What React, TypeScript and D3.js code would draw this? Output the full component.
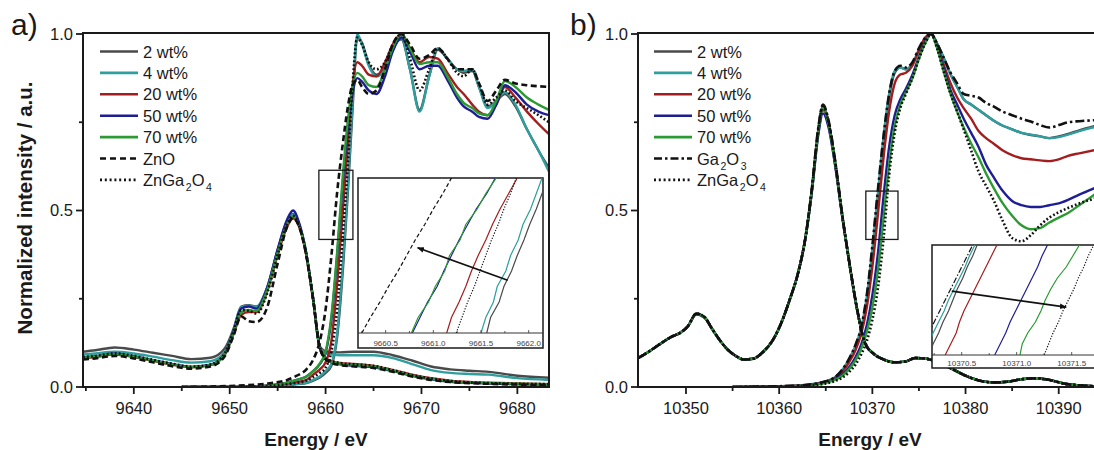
import React from "react";
import * as d3 from "d3";

type Pt = [number, number];

// ---------------- shared ----------------
const sampleNames = ["2 wt%", "4 wt%", "20 wt%", "50 wt%", "70 wt%"];
const yMajorTicks = [0, 0.5, 1.0];
const yMinorTicks = [0.25, 0.75];

// ---------------- panel a : Zn K-edge ----------------
const aXMajor = [9640, 9650, 9660, 9670, 9680];
const aXMinor = [9635, 9645, 9655, 9665, 9675];
const aRefNames = ["ZnO", "ZnGa2O4"];

// lower-energy (peak) family
const aPeakE = [9634.7, 9636, 9638, 9640, 9642, 9644, 9646, 9648, 9649.5, 9650.4, 9651.2, 9652, 9652.8, 9653.9, 9655, 9656, 9656.6, 9657.3, 9657.9, 9658.7, 9659.4, 9660.2, 9661.5, 9663, 9665, 9667, 9669, 9671, 9673, 9675, 9677, 9680, 9683.3];
const aPeak2 = [0.100, 0.104, 0.112, 0.106, 0.097, 0.088, 0.079, 0.083, 0.110, 0.165, 0.228, 0.232, 0.228, 0.282, 0.388, 0.470, 0.490, 0.455, 0.390, 0.250, 0.115, 0.100, 0.098, 0.100, 0.100, 0.090, 0.075, 0.058, 0.050, 0.046, 0.043, 0.032, 0.026];
const aPeak4 = [0.092, 0.095, 0.100, 0.095, 0.086, 0.076, 0.069, 0.073, 0.100, 0.160, 0.226, 0.230, 0.226, 0.280, 0.385, 0.468, 0.488, 0.455, 0.390, 0.250, 0.112, 0.094, 0.090, 0.090, 0.090, 0.082, 0.065, 0.048, 0.040, 0.037, 0.035, 0.025, 0.020];
const aPeak20 = [0.082, 0.085, 0.092, 0.085, 0.074, 0.063, 0.056, 0.062, 0.092, 0.150, 0.205, 0.212, 0.212, 0.270, 0.375, 0.455, 0.478, 0.450, 0.385, 0.248, 0.112, 0.078, 0.068, 0.065, 0.060, 0.048, 0.035, 0.025, 0.018, 0.014, 0.012, 0.010, 0.008];
const aPeak50 = [0.084, 0.087, 0.094, 0.087, 0.076, 0.065, 0.057, 0.063, 0.094, 0.158, 0.222, 0.228, 0.222, 0.280, 0.390, 0.475, 0.500, 0.460, 0.392, 0.250, 0.110, 0.076, 0.064, 0.060, 0.056, 0.045, 0.032, 0.022, 0.015, 0.012, 0.010, 0.008, 0.007];
const aPeak70 = [0.083, 0.086, 0.093, 0.086, 0.075, 0.064, 0.056, 0.062, 0.093, 0.152, 0.212, 0.218, 0.215, 0.273, 0.380, 0.462, 0.484, 0.452, 0.388, 0.248, 0.110, 0.076, 0.066, 0.062, 0.058, 0.046, 0.033, 0.023, 0.016, 0.013, 0.011, 0.009, 0.008];
const aPeakZnO = [0.078, 0.081, 0.088, 0.081, 0.070, 0.059, 0.052, 0.058, 0.088, 0.145, 0.200, 0.186, 0.184, 0.225, 0.350, 0.455, 0.478, 0.450, 0.385, 0.248, 0.110, 0.074, 0.062, 0.058, 0.054, 0.043, 0.030, 0.020, 0.014, 0.011, 0.009, 0.007, 0.006];
const aPeakZnGa2O4 = [0.085, 0.088, 0.095, 0.088, 0.077, 0.066, 0.058, 0.064, 0.096, 0.158, 0.218, 0.216, 0.208, 0.265, 0.375, 0.462, 0.485, 0.452, 0.388, 0.250, 0.112, 0.078, 0.068, 0.064, 0.060, 0.048, 0.034, 0.024, 0.017, 0.013, 0.011, 0.009, 0.008];

// absorption-edge family
const aEdgeE = [9645, 9650, 9654, 9656, 9657, 9658, 9658.7, 9659.4, 9660, 9660.6, 9661.2, 9661.8, 9662.3, 9662.8, 9663.3, 9663.8, 9664.5, 9665.3, 9666.2, 9667, 9667.9, 9668.8, 9669.8, 9670.8, 9671.7, 9672.7, 9673.7, 9674.4, 9675.3, 9676, 9676.9, 9677.8, 9678.7, 9679.8, 9681, 9682.2, 9683.3];
const aEdge2 = [0, 0, 0.002, 0.005, 0.008, 0.011, 0.018, 0.027, 0.04, 0.06, 0.14, 0.33, 0.54, 0.78, 0.99, 0.975, 0.915, 0.885, 0.905, 0.96, 0.985, 0.9, 0.785, 0.88, 0.955, 0.93, 0.9, 0.89, 0.895, 0.85, 0.795, 0.81, 0.83, 0.795, 0.73, 0.67, 0.62];
const aEdge4 = [0, 0, 0.003, 0.006, 0.009, 0.012, 0.02, 0.03, 0.045, 0.065, 0.15, 0.35, 0.56, 0.8, 1.0, 0.97, 0.91, 0.88, 0.9, 0.96, 0.99, 0.9, 0.78, 0.88, 0.96, 0.93, 0.9, 0.895, 0.9, 0.85, 0.79, 0.81, 0.835, 0.8, 0.73, 0.67, 0.61];
const aEdge20 = [0, 0, 0.004, 0.01, 0.014, 0.02, 0.035, 0.05, 0.07, 0.13, 0.29, 0.5, 0.68, 0.85, 0.92, 0.91, 0.885, 0.88, 0.92, 0.97, 1.0, 0.96, 0.92, 0.935, 0.93, 0.89, 0.85, 0.83, 0.8, 0.78, 0.77, 0.8, 0.85, 0.82, 0.78, 0.745, 0.716];
const aEdge50 = [0, 0, 0.004, 0.012, 0.02, 0.03, 0.045, 0.065, 0.097, 0.19, 0.37, 0.58, 0.73, 0.83, 0.875, 0.865, 0.84, 0.83, 0.88, 0.95, 0.99, 0.95, 0.9, 0.91, 0.91, 0.87, 0.82, 0.795, 0.78, 0.765, 0.76, 0.8, 0.855, 0.835, 0.8, 0.78, 0.77];
const aEdge70 = [0, 0, 0.004, 0.012, 0.02, 0.03, 0.045, 0.067, 0.1, 0.2, 0.38, 0.6, 0.75, 0.85, 0.89, 0.88, 0.855, 0.85, 0.9, 0.96, 1.0, 0.96, 0.915, 0.92, 0.92, 0.88, 0.83, 0.805, 0.79, 0.775, 0.77, 0.81, 0.867, 0.85, 0.82, 0.8, 0.785];
const aEdgeZnO = [0, 0.003, 0.01, 0.02, 0.032, 0.05, 0.077, 0.13, 0.22, 0.37, 0.55, 0.69, 0.79, 0.855, 0.87, 0.85, 0.83, 0.84, 0.9, 0.97, 1.0, 0.97, 0.93, 0.94, 0.96, 0.93, 0.9, 0.9, 0.9, 0.86, 0.81, 0.84, 0.87, 0.86, 0.855, 0.852, 0.85];
const aEdgeZnGa2O4 = [0, 0, 0.003, 0.008, 0.012, 0.018, 0.028, 0.04, 0.055, 0.1, 0.22, 0.43, 0.62, 0.85, 0.99, 0.97, 0.92, 0.9, 0.92, 0.97, 1.0, 0.93, 0.84, 0.9, 0.96, 0.93, 0.89, 0.88, 0.9, 0.86, 0.8, 0.82, 0.84, 0.81, 0.79, 0.77, 0.75];

// inset a (zoom on the edge)
const aInsetMajor = [9660.5, 9661.0, 9661.5, 9662.0];
const aInsetMinor = [9660.25, 9660.75, 9661.25, 9661.75];
const aInsetLevels = [0.40, 0.42, 0.44, 0.46, 0.48, 0.50, 0.52, 0.54, 0.56, 0.58, 0.60];
const aIns2 = [9661.56, 9661.60, 9661.69, 9661.74, 9661.82, 9661.88, 9661.95, 9662.01, 9662.08, 9662.14, 9662.21];
const aIns4 = [9661.50, 9661.55, 9661.63, 9661.67, 9661.76, 9661.81, 9661.89, 9661.94, 9662.02, 9662.08, 9662.14];
const aIns20 = [9661.14, 9661.19, 9661.27, 9661.34, 9661.40, 9661.47, 9661.55, 9661.62, 9661.70, 9661.79, 9661.88];
const aIns50 = [9660.78, 9660.86, 9660.94, 9661.04, 9661.11, 9661.19, 9661.27, 9661.36, 9661.45, 9661.56, 9661.65];
const aIns70 = [9660.77, 9660.84, 9660.95, 9661.02, 9661.12, 9661.17, 9661.28, 9661.34, 9661.46, 9661.55, 9661.66];
const aInsZnO = [9660.25, 9660.34, 9660.44, 9660.53, 9660.63, 9660.72, 9660.81, 9660.91, 9661.00, 9661.10, 9661.19];
const aInsZnGa2O4 = [9661.24, 9661.30, 9661.36, 9661.43, 9661.49, 9661.55, 9661.61, 9661.68, 9661.74, 9661.81, 9661.87];
const aArrowFrom: Pt = [9661.78, 0.468];
const aArrowTo: Pt = [9660.835, 0.51];
const aZoomBox = { e0: 9659.3, e1: 9662.85, i0: 0.418, i1: 0.614 };

// ---------------- panel b : Ga K-edge ----------------
const bXMajor = [10350, 10360, 10370, 10380, 10390];
const bXMinor = [10345, 10355, 10365, 10375, 10385];
const bRefNames = ["Ga2O3", "ZnGa2O4"];

const bPeakE = [10344.85, 10346, 10347.5, 10348.5, 10349.3, 10350.2, 10351.1, 10352, 10352.8, 10353.7, 10354.5, 10355.4, 10356.2, 10357.2, 10358.3, 10359.3, 10360.2, 10361.1, 10362, 10362.8, 10363.5, 10364.2, 10364.7, 10365.3, 10366, 10366.8, 10367.6, 10368.4, 10369.2, 10370.2, 10371.2, 10372.3, 10373.5, 10374.6, 10375.8, 10377, 10378.5, 10380, 10381.5, 10383, 10384.5, 10386, 10387.5, 10389, 10390.5, 10392, 10394];
const bPeak2 = [0.082, 0.1, 0.127, 0.143, 0.152, 0.172, 0.208, 0.198, 0.165, 0.13, 0.105, 0.087, 0.078, 0.08, 0.1, 0.132, 0.18, 0.245, 0.32, 0.42, 0.56, 0.73, 0.795, 0.75, 0.64, 0.48, 0.34, 0.215, 0.125, 0.093, 0.078, 0.07, 0.072, 0.082, 0.08, 0.07, 0.052, 0.032, 0.018, 0.013, 0.015, 0.022, 0.025, 0.02, 0.01, 0.005, 0.002];
const bPeak4 = [0.082, 0.1, 0.127, 0.143, 0.152, 0.172, 0.207, 0.197, 0.165, 0.13, 0.105, 0.087, 0.078, 0.08, 0.1, 0.132, 0.18, 0.245, 0.32, 0.42, 0.555, 0.725, 0.79, 0.745, 0.635, 0.48, 0.34, 0.215, 0.125, 0.093, 0.078, 0.07, 0.072, 0.082, 0.08, 0.07, 0.052, 0.032, 0.018, 0.013, 0.015, 0.022, 0.025, 0.02, 0.01, 0.005, 0.002];
const bPeak20 = [0.082, 0.1, 0.127, 0.143, 0.152, 0.172, 0.206, 0.196, 0.164, 0.13, 0.105, 0.087, 0.078, 0.08, 0.1, 0.132, 0.18, 0.245, 0.32, 0.42, 0.555, 0.72, 0.785, 0.742, 0.632, 0.478, 0.34, 0.215, 0.125, 0.093, 0.078, 0.07, 0.072, 0.082, 0.08, 0.07, 0.052, 0.032, 0.018, 0.013, 0.015, 0.022, 0.025, 0.02, 0.01, 0.005, 0.002];
const bPeak50 = [0.082, 0.1, 0.127, 0.143, 0.152, 0.172, 0.206, 0.196, 0.164, 0.13, 0.105, 0.087, 0.078, 0.08, 0.1, 0.132, 0.18, 0.245, 0.32, 0.418, 0.55, 0.715, 0.775, 0.735, 0.628, 0.476, 0.338, 0.213, 0.124, 0.092, 0.078, 0.07, 0.072, 0.082, 0.08, 0.07, 0.052, 0.032, 0.018, 0.013, 0.015, 0.022, 0.025, 0.02, 0.01, 0.005, 0.002];
const bPeak70 = [0.082, 0.1, 0.127, 0.143, 0.152, 0.172, 0.207, 0.197, 0.165, 0.13, 0.105, 0.087, 0.078, 0.08, 0.1, 0.132, 0.18, 0.245, 0.32, 0.42, 0.555, 0.725, 0.79, 0.745, 0.635, 0.48, 0.34, 0.215, 0.125, 0.093, 0.078, 0.07, 0.072, 0.082, 0.08, 0.07, 0.052, 0.032, 0.018, 0.013, 0.015, 0.022, 0.025, 0.02, 0.01, 0.005, 0.002];
const bPeakGa2O3 = [0.082, 0.1, 0.127, 0.143, 0.152, 0.172, 0.208, 0.198, 0.165, 0.13, 0.105, 0.087, 0.078, 0.08, 0.1, 0.132, 0.18, 0.245, 0.32, 0.42, 0.56, 0.735, 0.8, 0.755, 0.642, 0.482, 0.342, 0.216, 0.126, 0.093, 0.078, 0.07, 0.072, 0.082, 0.08, 0.07, 0.052, 0.032, 0.018, 0.013, 0.015, 0.022, 0.025, 0.02, 0.01, 0.005, 0.002];
const bPeakZnGa2O4 = [0.082, 0.1, 0.127, 0.143, 0.152, 0.172, 0.208, 0.198, 0.165, 0.13, 0.105, 0.087, 0.078, 0.08, 0.1, 0.132, 0.18, 0.245, 0.32, 0.42, 0.558, 0.73, 0.795, 0.75, 0.64, 0.48, 0.34, 0.215, 0.125, 0.093, 0.078, 0.07, 0.072, 0.082, 0.08, 0.07, 0.052, 0.032, 0.018, 0.013, 0.015, 0.022, 0.025, 0.02, 0.01, 0.005, 0.002];

const bEdgeE = [10355, 10362, 10364, 10365, 10366, 10366.8, 10367.5, 10368.2, 10368.8, 10369.4, 10370, 10370.6, 10371.2, 10371.8, 10372.4, 10373, 10373.6, 10374.3, 10375, 10375.7, 10376.3, 10377, 10377.7, 10378.4, 10379.1, 10379.8, 10380.6, 10381.4, 10382.2, 10383, 10384, 10385, 10386, 10387, 10388, 10389, 10390, 10391, 10392.2, 10394];
const bEdge2 = [0, 0.004, 0.009, 0.015, 0.026, 0.047, 0.075, 0.112, 0.16, 0.245, 0.375, 0.535, 0.695, 0.82, 0.89, 0.905, 0.9, 0.915, 0.955, 0.99, 1.0, 0.97, 0.93, 0.885, 0.85, 0.815, 0.8, 0.785, 0.77, 0.755, 0.74, 0.73, 0.72, 0.714, 0.71, 0.705, 0.71, 0.717, 0.727, 0.74];
const bEdge4 = [0, 0.004, 0.01, 0.016, 0.028, 0.05, 0.079, 0.118, 0.167, 0.255, 0.39, 0.55, 0.71, 0.83, 0.895, 0.905, 0.9, 0.915, 0.955, 0.99, 1.0, 0.97, 0.93, 0.885, 0.85, 0.815, 0.8, 0.785, 0.77, 0.755, 0.74, 0.73, 0.72, 0.715, 0.71, 0.705, 0.708, 0.715, 0.725, 0.737];
const bEdge20 = [0, 0.004, 0.009, 0.015, 0.026, 0.044, 0.07, 0.105, 0.15, 0.225, 0.34, 0.49, 0.65, 0.78, 0.86, 0.885, 0.89, 0.91, 0.955, 0.99, 1.0, 0.965, 0.91, 0.86, 0.82, 0.79, 0.76, 0.725, 0.705, 0.69, 0.67, 0.657, 0.648, 0.645, 0.642, 0.64, 0.645, 0.655, 0.662, 0.672];
const bEdge50 = [0, 0.003, 0.008, 0.013, 0.022, 0.036, 0.056, 0.085, 0.12, 0.175, 0.26, 0.38, 0.54, 0.68, 0.77, 0.815, 0.845, 0.885, 0.935, 0.98, 1.0, 0.96, 0.9, 0.84, 0.8, 0.76, 0.72, 0.68, 0.63, 0.595, 0.555, 0.527, 0.515, 0.51, 0.51, 0.515, 0.52, 0.53, 0.545, 0.565];
const bEdge70 = [0, 0.003, 0.007, 0.012, 0.02, 0.032, 0.05, 0.076, 0.108, 0.155, 0.225, 0.33, 0.48, 0.63, 0.74, 0.8, 0.835, 0.875, 0.93, 0.975, 1.0, 0.955, 0.89, 0.83, 0.78, 0.735, 0.69, 0.65, 0.605, 0.565, 0.52, 0.485, 0.458, 0.447, 0.45, 0.466, 0.48, 0.493, 0.515, 0.548];
const bEdgeGa2O3 = [0, 0.004, 0.01, 0.016, 0.028, 0.05, 0.08, 0.12, 0.17, 0.26, 0.4, 0.56, 0.71, 0.83, 0.895, 0.91, 0.905, 0.92, 0.96, 0.99, 1.0, 0.97, 0.93, 0.89, 0.86, 0.83, 0.825, 0.82, 0.805, 0.795, 0.78, 0.77, 0.76, 0.752, 0.742, 0.735, 0.742, 0.75, 0.753, 0.756];
const bEdgeZnGa2O4 = [0, 0.002, 0.006, 0.01, 0.017, 0.027, 0.042, 0.064, 0.092, 0.13, 0.19, 0.28, 0.42, 0.6, 0.72, 0.79, 0.83, 0.875, 0.93, 0.975, 1.0, 0.955, 0.89, 0.83, 0.78, 0.73, 0.67, 0.61, 0.57, 0.53, 0.47, 0.422, 0.413, 0.43, 0.458, 0.48, 0.495, 0.507, 0.52, 0.535];

const bInsetMajor = [10370.5, 10371.0, 10371.5];
const bInsetMinor = [10370.25, 10370.75, 10371.25];
const bInsetLevels = [0.45, 0.46, 0.47, 0.48, 0.49, 0.50, 0.51, 0.52, 0.53, 0.54, 0.55];
const bIns2 = [10370.20, 10370.24, 10370.29, 10370.33, 10370.38, 10370.42, 10370.46, 10370.51, 10370.55, 10370.60, 10370.64];
const bIns4 = [10370.15, 10370.20, 10370.24, 10370.29, 10370.34, 10370.38, 10370.43, 10370.48, 10370.53, 10370.57, 10370.62];
const bIns20 = [10370.35, 10370.40, 10370.45, 10370.48, 10370.52, 10370.57, 10370.62, 10370.67, 10370.72, 10370.77, 10370.82];
const bIns50 = [10370.80, 10370.85, 10370.90, 10370.94, 10370.99, 10371.04, 10371.09, 10371.14, 10371.19, 10371.23, 10371.28];
const bIns70 = [10371.03, 10371.05, 10371.10, 10371.17, 10371.22, 10371.26, 10371.31, 10371.37, 10371.45, 10371.51, 10371.57];
const bInsGa2O3 = [10370.10, 10370.15, 10370.20, 10370.25, 10370.30, 10370.35, 10370.40, 10370.45, 10370.50, 10370.55, 10370.60];
const bInsZnGa2O4 = [10371.25, 10371.29, 10371.33, 10371.38, 10371.42, 10371.47, 10371.52, 10371.56, 10371.61, 10371.65, 10371.70];
const bArrowFrom: Pt = [10370.41, 0.508];
const bArrowTo: Pt = [10371.45, 0.4936];
const bZoomBox = { e0: 10369.3, e1: 10372.75, i0: 0.418, i1: 0.555 };

// ---------------- styles ----------------
const sampleColors = ["#4a4a4a", "#2f9e9e", "#a31d1f", "#1e1e94", "#2c9a33"];
const refColor = "#111111";
const FONT = "'Liberation Sans', Arial, Helvetica, sans-serif";

type Series = {
  name: string;
  color: string;
  dash: string | null;
  legendDash: string | null;
  insetDash: string | null;
  peak: number[];
  edge: number[];
  inset: number[];
};

type PanelCfg = {
  id: string;
  label: string;
  labelX: number;
  left: number;
  right: number;
  xDomain: [number, number];
  xMajor: number[];
  xMinor: number[];
  titleX: number;
  peakE: number[];
  edgeE: number[];
  series: Series[];
  legendX: number;
  box: { e0: number; e1: number; i0: number; i1: number };
  inset: {
    x: number; y: number; w: number; h: number; axisY: number;
    xRange: [number, number]; eDomain: [number, number]; iDomain: [number, number];
    levels: number[]; major: number[]; minor: number[];
    arrowFrom: Pt; arrowTo: Pt; labelY: number;
  };
};

function mkSeries(names: string[], refNames: string[], refStyles: [string, string, string][], peaks: number[][], edges: number[][], insets: number[][]): Series[] {
  const out: Series[] = [];
  names.forEach((n, i) => out.push({ name: n, color: sampleColors[i], dash: null, legendDash: null, insetDash: null, peak: peaks[i], edge: edges[i], inset: insets[i] }));
  refNames.forEach((n, j) => {
    const k = names.length + j;
    out.push({ name: n, color: refColor, dash: refStyles[j][0], legendDash: refStyles[j][1], insetDash: refStyles[j][2], peak: peaks[k], edge: edges[k], inset: insets[k] });
  });
  return out;
}

const panelA: PanelCfg = {
  id: "a", label: "a)", labelX: 11, left: 83, right: 549,
  xDomain: [9634.7, 9683.3], xMajor: aXMajor, xMinor: aXMinor, titleX: 316,
  peakE: aPeakE, edgeE: aEdgeE,
  series: mkSeries(sampleNames, aRefNames,
    [["6,3.5", "6,4", "4,2.5"], ["1.8,2.2", "2,2.8", "1.2,1.6"]],
    [aPeak2, aPeak4, aPeak20, aPeak50, aPeak70, aPeakZnO, aPeakZnGa2O4],
    [aEdge2, aEdge4, aEdge20, aEdge50, aEdge70, aEdgeZnO, aEdgeZnGa2O4],
    [aIns2, aIns4, aIns20, aIns50, aIns70, aInsZnO, aInsZnGa2O4]),
  legendX: 100, box: aZoomBox,
  inset: { x: 358, y: 178, w: 185, h: 170, axisY: 333, xRange: [358, 543], eDomain: [9660.21, 9662.15], iDomain: [0.4, 0.6],
    levels: aInsetLevels, major: aInsetMajor, minor: aInsetMinor, arrowFrom: aArrowFrom, arrowTo: aArrowTo, labelY: 346 },
};

const panelB: PanelCfg = {
  id: "b", label: "b)", labelX: 570, left: 638, right: 1096,
  xDomain: [10344.85, 10394.0], xMajor: bXMajor, xMinor: bXMinor, titleX: 870,
  peakE: bPeakE, edgeE: bEdgeE,
  series: mkSeries(sampleNames, bRefNames,
    [["9,3,2.5,3", "8,3,2.5,3", "6,2,1.5,2"], ["1.8,2.2", "2,2.8", "1.2,1.6"]],
    [bPeak2, bPeak4, bPeak20, bPeak50, bPeak70, bPeakGa2O3, bPeakZnGa2O4],
    [bEdge2, bEdge4, bEdge20, bEdge50, bEdge70, bEdgeGa2O3, bEdgeZnGa2O4],
    [bIns2, bIns4, bIns20, bIns50, bIns70, bInsGa2O3, bInsZnGa2O4]),
  legendX: 654, box: bZoomBox,
  inset: { x: 932, y: 245, w: 175, h: 123, axisY: 355, xRange: [932, 1093.7], eDomain: [10370.23, 10371.7], iDomain: [0.45, 0.55],
    levels: bInsetLevels, major: bInsetMajor, minor: bInsetMinor, arrowFrom: bArrowFrom, arrowTo: bArrowTo, labelY: 366 },
};

function LegendLabel({ name, x, y }: { name: string; x: number; y: number }) {
  if (name.includes("wt%")) {
    return <text x={x} y={y} fontSize={16.5} fill="#1a1a1a">{name}</text>;
  }
  const parts = name.split(/(\d)/).filter((p) => p !== "");
  let sub = false;
  return (
    <text x={x} y={y} fontSize={16.5} fill="#1a1a1a">
      {parts.map((p, i) => {
        const isDigit = /\d/.test(p);
        const dy = isDigit && !sub ? 5 : !isDigit && sub ? -5 : 0;
        sub = isDigit;
        return (
          <tspan key={i} dy={dy} fontSize={isDigit ? 10.5 : 16.5} dx={isDigit ? 1.5 : 0}>{p}</tspan>
        );
      })}
    </text>
  );
}

function Panel({ cfg }: { cfg: PanelCfg }) {
  const top = 34, bottom = 387;
  const x = d3.scaleLinear().domain(cfg.xDomain).range([cfg.left, cfg.right]);
  const y = d3.scaleLinear().domain([0, 1]).range([bottom, top]);
  const line = d3.line<Pt>().x((d) => x(d[0])).y((d) => y(d[1])).curve(d3.curveMonotoneX);
  const ins = cfg.inset;
  const ix = d3.scaleLinear().domain(ins.eDomain).range(ins.xRange);
  const iy = d3.scaleLinear().domain(ins.iDomain).range([ins.axisY, ins.y]);
  const iline = d3.line<Pt>().x((d) => ix(d[0])).y((d) => iy(d[1])).curve(d3.curveLinear);
  const clipMain = `clip-main-${cfg.id}`;
  const clipIns = `clip-ins-${cfg.id}`;
  const arrowId = `arrow-${cfg.id}`;
  const fmt = d3.format(".1f");
  const legendY0 = 51.5, legendDy = 21.4;

  return (
    <g>
      <defs>
        <clipPath id={clipMain}>
          <rect x={cfg.left} y={top - 1} width={cfg.right - cfg.left} height={bottom - top + 1} />
        </clipPath>
        <clipPath id={clipIns}>
          <rect x={ins.x} y={ins.y} width={ins.w} height={ins.axisY - ins.y} />
        </clipPath>
        <marker id={arrowId} viewBox="0 0 10 10" refX={9} refY={5} markerWidth={7} markerHeight={7} orient="auto-start-reverse" markerUnits="userSpaceOnUse">
          <path d="M0,1 L10,5 L0,9 z" fill="#111" />
        </marker>
      </defs>

      {/* curves */}
      <g clipPath={`url(#${clipMain})`}>
        {cfg.series.map((s, i) => (
          <g key={i}>
            <path d={line(cfg.peakE.map((e, k) => [e, s.peak[k]] as Pt)) || ""} fill="none" stroke={s.color} strokeWidth={s.dash ? 2.6 : 2.4} strokeDasharray={s.dash || undefined} />
            <path d={line(cfg.edgeE.map((e, k) => [e, s.edge[k]] as Pt)) || ""} fill="none" stroke={s.color} strokeWidth={s.dash ? 2.6 : 2.4} strokeDasharray={s.dash || undefined} />
          </g>
        ))}
      </g>

      {/* zoom box */}
      <rect x={x(cfg.box.e0)} y={y(cfg.box.i1)} width={x(cfg.box.e1) - x(cfg.box.e0)} height={y(cfg.box.i0) - y(cfg.box.i1)} fill="none" stroke="#1a1a1a" strokeWidth={1.3} />

      {/* frame and axes */}
      <rect x={cfg.left} y={top - 1} width={cfg.right - cfg.left} height={bottom - top + 1} fill="none" stroke="#1a1a1a" strokeWidth={2} />
      {cfg.xMajor.map((t) => (
        <g key={`xm${t}`}>
          <line x1={x(t)} x2={x(t)} y1={bottom} y2={bottom + 7} stroke="#1a1a1a" strokeWidth={1.8} />
          <text x={x(t)} y={414} textAnchor="middle" fontSize={16.5} fill="#1a1a1a">{t}</text>
        </g>
      ))}
      {cfg.xMinor.filter((t) => x(t) > cfg.left + 2 && x(t) < cfg.right).map((t) => (
        <line key={`xn${t}`} x1={x(t)} x2={x(t)} y1={bottom} y2={bottom + 4} stroke="#1a1a1a" strokeWidth={1.8} />
      ))}
      {yMajorTicks.map((t) => (
        <g key={`ym${t}`}>
          <line x1={cfg.left - 7} x2={cfg.left} y1={y(t)} y2={y(t)} stroke="#1a1a1a" strokeWidth={1.8} />
          <text x={cfg.left - 10} y={y(t)} dy="0.36em" textAnchor="end" fontSize={16.5} fill="#1a1a1a">{fmt(t)}</text>
        </g>
      ))}
      {yMinorTicks.map((t) => (
        <line key={`yn${t}`} x1={cfg.left - 4} x2={cfg.left} y1={y(t)} y2={y(t)} stroke="#1a1a1a" strokeWidth={1.8} />
      ))}
      <text x={cfg.titleX} y={446} textAnchor="middle" fontSize={19} fontWeight="bold" fill="#1a1a1a">Energy / eV</text>
      <text x={cfg.labelX} y={35} fontSize={30} fill="#1a1a1a">{cfg.label}</text>

      {/* legend */}
      {cfg.series.map((s, i) => {
        const ly = legendY0 + i * legendDy;
        return (
          <g key={`lg${i}`}>
            <line x1={cfg.legendX} x2={cfg.legendX + 38} y1={ly} y2={ly} stroke={s.color} strokeWidth={2.6} strokeDasharray={s.legendDash || undefined} />
            <LegendLabel name={s.name} x={cfg.legendX + 43} y={ly + 6} />
          </g>
        );
      })}

      {/* inset */}
      <rect x={ins.x} y={ins.y} width={ins.w} height={ins.h} fill="#fff" stroke="#1a1a1a" strokeWidth={1.5} />
      <g clipPath={`url(#${clipIns})`}>
        {cfg.series.map((s, i) => (
          <path key={`in${i}`} d={iline(ins.levels.map((lv, k) => [s.inset[k], lv] as Pt)) || ""} fill="none" stroke={s.color} strokeWidth={1.2} strokeDasharray={s.insetDash || undefined} />
        ))}
      </g>
      <line x1={ins.x} x2={ins.x + ins.w} y1={ins.axisY} y2={ins.axisY} stroke="#333" strokeWidth={1} />
      {ins.major.map((t) => (
        <g key={`im${t}`}>
          <line x1={ix(t)} x2={ix(t)} y1={ins.axisY} y2={ins.axisY - 3} stroke="#333" strokeWidth={0.8} />
          <text x={ix(t)} y={ins.labelY} textAnchor="middle" fontSize={8} fill="#444">{fmt(t)}</text>
        </g>
      ))}
      {ins.minor.map((t) => (
        <line key={`in${t}`} x1={ix(t)} x2={ix(t)} y1={ins.axisY} y2={ins.axisY - 2} stroke="#333" strokeWidth={0.8} />
      ))}
      <line x1={ix(ins.arrowFrom[0])} y1={iy(ins.arrowFrom[1])} x2={ix(ins.arrowTo[0])} y2={iy(ins.arrowTo[1])} stroke="#111" strokeWidth={1.7} markerEnd={`url(#${arrowId})`} />
    </g>
  );
}

export default function App() {
  return (
    <svg width={1094} height={450} style={{ position: "absolute", left: 0, top: 0, display: "block" }} fontFamily={FONT}>
      <rect x={0} y={0} width={1094} height={450} fill="#ffffff" />
      <Panel cfg={panelA} />
      <Panel cfg={panelB} />
      <text transform="translate(32,208) rotate(-90)" textAnchor="middle" fontSize={20.5} fontWeight="bold" fill="#1a1a1a">Normalized intensity / a.u.</text>
    </svg>
  );
}
